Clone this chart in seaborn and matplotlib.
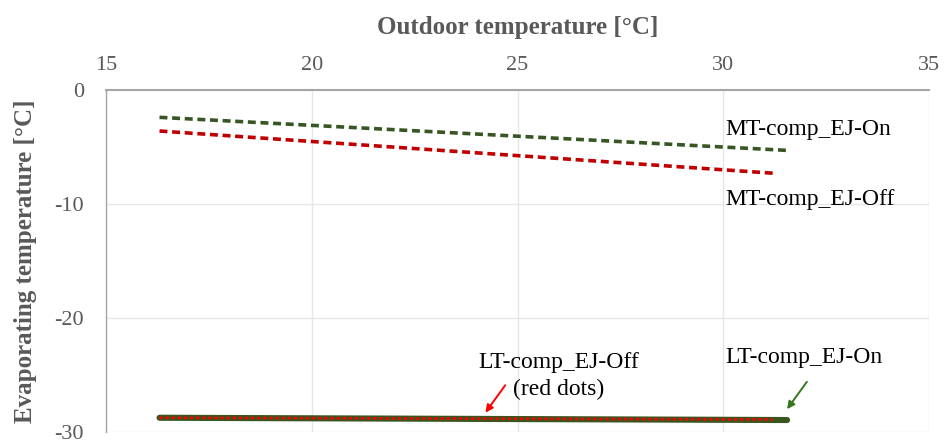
import matplotlib
matplotlib.use("Agg")
import matplotlib.pyplot as plt
import seaborn as sns
import pandas as pd

# Outdoor temperature range covered by each series [°C]
t_on = [16.3, 31.55]
t_off = [16.3, 31.2]

# Evaporating temperatures [°C]
mt_on = [-2.4, -5.3]
mt_off = [-3.6, -7.3]
lt_on = [-28.75, -28.95]
lt_off = [-28.75, -28.9]

sns.set_theme(style="white")
plt.rcParams["font.family"] = ["Liberation Serif", "DejaVu Serif"]
plt.rcParams["axes.unicode_minus"] = False

fig = plt.figure(figsize=(9.49, 4.41), dpi=100)
ax = fig.add_axes([0.1117, 0.0204, 0.8673, 0.7756])

grey = "#595959"

df_mt_on = pd.DataFrame({"t": t_on, "v": mt_on})
df_mt_off = pd.DataFrame({"t": t_off, "v": mt_off})
df_lt_on = pd.DataFrame({"t": t_on, "v": lt_on})
df_lt_off = pd.DataFrame({"t": t_off, "v": lt_off})

sns.lineplot(data=df_mt_on, x="t", y="v", ax=ax, color="#375623",
             linewidth=2.6, linestyle=(0, (2.2, 1.3)), zorder=3)
sns.lineplot(data=df_mt_off, x="t", y="v", ax=ax, color="#c00000",
             linewidth=2.6, linestyle=(0, (2.2, 1.3)), zorder=3)
sns.lineplot(data=df_lt_on, x="t", y="v", ax=ax, color="#38561e",
             linewidth=4.4, solid_capstyle="round", zorder=3)
sns.lineplot(data=df_lt_off, x="t", y="v", ax=ax, color="#ff0000",
             linewidth=2.0, linestyle=(0, (1.1, 1.1)), zorder=4)

ax.set_xlim(15, 35)
ax.set_ylim(-30, 0)
ax.set_xticks([15, 20, 25, 30, 35])
ax.set_yticks([0, -10, -20, -30])
ax.xaxis.tick_top()
ax.xaxis.set_label_position("top")
ax.grid(True, color="#e6e6e6", linewidth=1.0)
ax.set_axisbelow(True)

for side in ["right", "bottom"]:
    ax.spines[side].set_visible(False)
ax.spines["top"].set_color("#a6a6a6")
ax.spines["top"].set_linewidth(1.5)
ax.spines["left"].set_color("#a6a6a6")
ax.spines["left"].set_linewidth(1.0)

ax.tick_params(axis="both", length=0, labelsize=16, labelcolor=grey)
ax.tick_params(axis="x", pad=11)
ax.tick_params(axis="y", pad=16)
ax.set_xlabel("Outdoor temperature [°C]", fontsize=18, fontweight="bold",
              color=grey, labelpad=15.5)
ax.set_ylabel("Evaporating temperature [°C]", fontsize=18, fontweight="bold",
              color=grey, labelpad=12)

txt = dict(fontsize=17, color="black", zorder=5)
ax.text(30.05, -3.5, "MT-comp_EJ-On", ha="left", va="center", **txt)
ax.text(30.05, -9.65, "MT-comp_EJ-Off", ha="left", va="center", **txt)
ax.text(26.0, -23.9, "LT-comp_EJ-Off", ha="center", va="center", **txt)
ax.text(26.0, -26.3, "(red dots)", ha="center", va="center", **txt)
ax.text(30.05, -23.5, "LT-comp_EJ-On", ha="left", va="center", **txt)

ax.annotate("", xy=(24.22, -28.3), xytext=(24.7, -25.9),
            arrowprops=dict(arrowstyle="-|>", color="#ff0000", lw=1.4,
                            mutation_scale=11, shrinkA=0, shrinkB=0))
ax.annotate("", xy=(31.55, -28.0), xytext=(32.03, -25.6),
            arrowprops=dict(arrowstyle="-|>", color="#38761d", lw=1.4,
                            mutation_scale=11, shrinkA=0, shrinkB=0))

fig.savefig("out.png", dpi=100)
